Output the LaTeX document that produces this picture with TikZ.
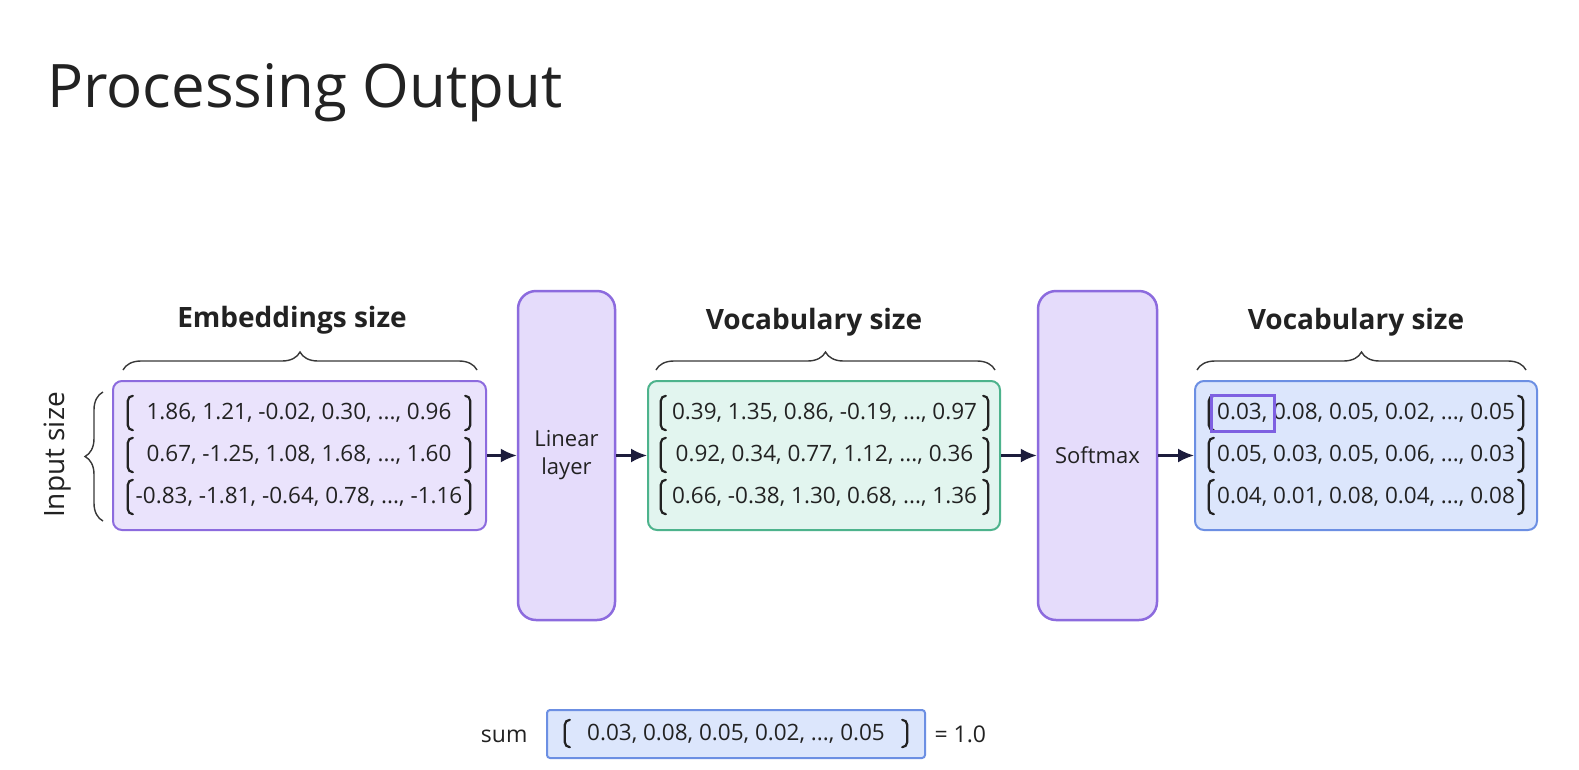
\documentclass[tikz,border=0pt]{standalone}
\usepackage{fontspec}
\setmainfont{Open Sans}
\usepackage{tikz}
\usetikzlibrary{arrows.meta,decorations.pathreplacing}
\usepackage{xcolor}

\definecolor{lilaline}{HTML}{8C6BDE}
\definecolor{lilafill}{HTML}{EAE3FC}
\definecolor{layerfill}{HTML}{E5DCFB}
\definecolor{greenline}{HTML}{4DB38C}
\definecolor{greenfill}{HTML}{E2F5EF}
\definecolor{blueline}{HTML}{6C8FE3}
\definecolor{bluefill}{HTML}{DCE6FC}
\definecolor{arrowcol}{HTML}{1C1C3C}
\definecolor{inkcol}{HTML}{222222}

\tikzset{
  matbox/.style={draw, line width=2pt, rounded corners=9pt, minimum height=149pt, inner sep=0pt},
  layerbox/.style={draw=lilaline, fill=layerfill, line width=2.5pt, rounded corners=18pt,
    minimum height=329pt, inner sep=0pt, text=inkcol, align=center,
    font=\fontsize{22}{28}\selectfont},
  rowtxt/.style={minimum height=34pt, inner sep=0pt, text=inkcol, font=\fontsize{22.5}{26}\selectfont},
  bkt/.style={draw=inkcol, line width=2.2pt, line cap=round},
  flow/.style={-{Latex[length=16pt,width=14pt]}, line width=2.2pt, draw=arrowcol},
  sizebrace/.style={decorate, decoration={brace, amplitude=18pt}, line width=1.4pt, draw=inkcol!90},
  sizelabel/.style={text=inkcol, font=\bfseries\fontsize{28}{32}\selectfont},
}

% tall square bracket on both sides of a row node
\newcommand{\vbrk}[1]{%
  \draw[bkt] ([xshift=5pt]#1.north west) to[out=180,in=90] ([yshift=-5pt]#1.north west)
    -- ([yshift=5pt]#1.south west) to[out=-90,in=180] ([xshift=5pt]#1.south west);
  \draw[bkt] ([xshift=-5pt]#1.north east) to[out=0,in=90] ([yshift=-5pt]#1.north east)
    -- ([yshift=5pt]#1.south east) to[out=-90,in=0] ([xshift=-5pt]#1.south east);
}

\begin{document}
\begin{tikzpicture}[x=1pt,y=-1pt]
  \useasboundingbox[fill=white] (0,0) rectangle (1579,769);

  % Title
  \node[anchor=base west, inner sep=0pt, text=inkcol, font=\fontsize{60}{68}\selectfont]
    (title) at (47,107) {Processing Output};

  % Embeddings
  \node[matbox, draw=lilaline, fill=lilafill, minimum width=373pt] (emb) at (299.5,455.5) {};
  \node[rowtxt, minimum width=342pt] (e1) at (299,413) {1.86, 1.21, -0.02, 0.30, ..., 0.96};
  \node[rowtxt, minimum width=342pt] (e2) at (299,455) {0.67, -1.25, 1.08, 1.68, ..., 1.60};
  \node[rowtxt, minimum width=342pt] (e3) at (299,497) {-0.83, -1.81, -0.64, 0.78, ..., -1.16};
  \foreach \r in {e1,e2,e3} {\vbrk{\r}}

  % Linear layer
  \node[layerbox, minimum width=97pt] (lin) at (566.5,455.5) {Linear\\layer};

  % Logits
  \node[matbox, draw=greenline, fill=greenfill, minimum width=352pt] (voc) at (824,455.5) {};
  \node[rowtxt, minimum width=327pt] (v1) at (824.5,413) {0.39, 1.35, 0.86, -0.19, ..., 0.97};
  \node[rowtxt, minimum width=327pt] (v2) at (824.5,455) {0.92, 0.34, 0.77, 1.12, ..., 0.36};
  \node[rowtxt, minimum width=327pt] (v3) at (824.5,497) {0.66, -0.38, 1.30, 0.68, ..., 1.36};
  \foreach \r in {v1,v2,v3} {\vbrk{\r}}

  % Softmax
  \node[layerbox, minimum width=119pt] (soft) at (1097.5,455.5) {Softmax};

  % Probabilities
  \node[matbox, draw=blueline, fill=bluefill, minimum width=342pt] (prob) at (1366,455.5) {};
  \node[rowtxt, minimum width=314pt] (p1) at (1366,413) {0.03, 0.08, 0.05, 0.02, ..., 0.05};
  \node[rowtxt, minimum width=314pt] (p2) at (1366,455) {0.05, 0.03, 0.05, 0.06, ..., 0.03};
  \node[rowtxt, minimum width=314pt] (p3) at (1366,497) {0.04, 0.01, 0.08, 0.04, ..., 0.08};
  \foreach \r in {p1,p2,p3} {\vbrk{\r}}
  \node[draw=lilaline!90!blue, line width=3pt, minimum width=63pt, minimum height=36pt, inner sep=0pt]
    (pick) at (1242.5,413) {};

  % Braces and labels
  \draw[sizebrace] (123,370) -- (477,370);
  \node[sizelabel] (elab) at (292,320) {Embeddings size};
  \draw[sizebrace] (656,370) -- (995,370);
  \node[sizelabel] (vlab) at (814,322) {Vocabulary size};
  \draw[sizebrace] (1197,370) -- (1526,370);
  \node[sizelabel] (plab) at (1356,322) {Vocabulary size};
  \draw[sizebrace] (103,521) -- (103,392);
  \node[rotate=90, text=inkcol, font=\fontsize{28}{32}\selectfont] (ilab) at (58,455) {Input size};

  % Flow
  \draw[flow] (emb) -- (lin);
  \draw[flow] (lin) -- (voc);
  \draw[flow] (voc) -- (soft);
  \draw[flow] (soft) -- (prob);

  % Sum check
  \node[anchor=base east, text=inkcol, font=\fontsize{23}{28}\selectfont] (sumlab) at (531,742) {sum};
  \node[draw=blueline, fill=bluefill, line width=2pt, rounded corners=3pt,
    minimum width=378pt, minimum height=48pt, inner sep=0pt] (sumbox) at (736,734) {};
  \node[rowtxt, minimum width=342pt, minimum height=27pt] (s1) at (736,733.5) {0.03, 0.08, 0.05, 0.02, ..., 0.05};
  \vbrk{s1}
  \node[anchor=base west, text=inkcol, font=\fontsize{23}{28}\selectfont] (sumres) at (931,742) {= 1.0};
\end{tikzpicture}
\end{document}
